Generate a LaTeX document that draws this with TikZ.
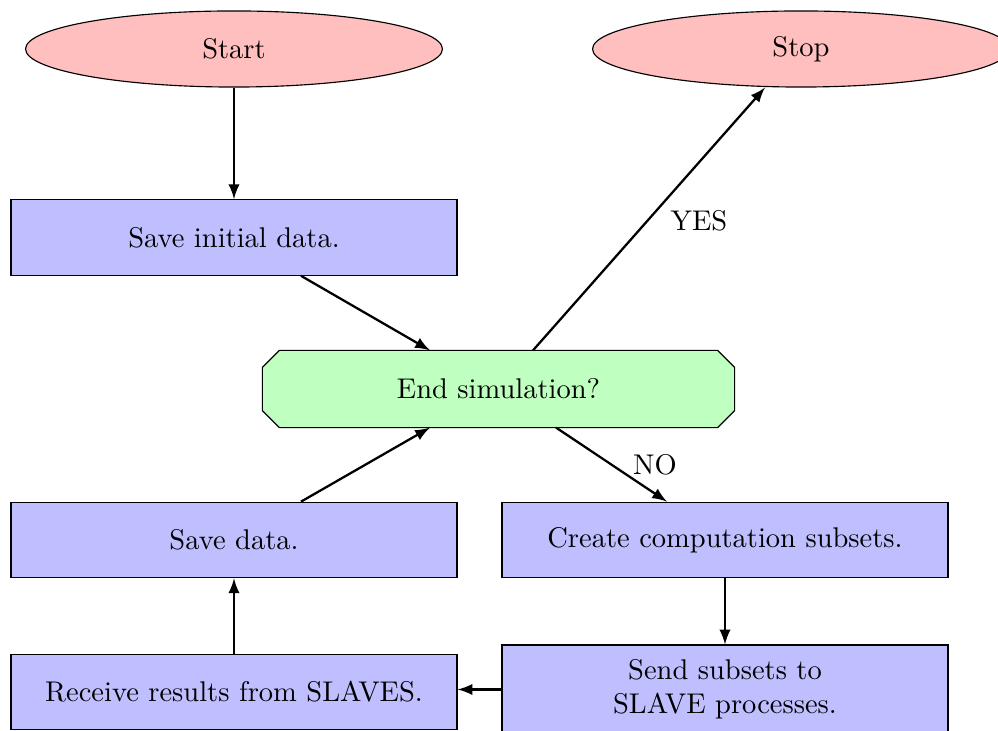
\documentclass[tikz,border=0pt]{standalone}
\usetikzlibrary{shapes.geometric,arrows,calc,backgrounds}

\tikzset{
  terminal/.style={ellipse,draw=black,fill=red!25,thin,inner sep=0pt,
    minimum width=146.3pt,minimum height=26.7pt},
  procbox/.style={rectangle,draw=black,fill=blue!25,thin,inner sep=0pt,
    minimum width=156.5pt,minimum height=26.5pt,align=center},
  decision/.style={rectangle,inner sep=0pt,minimum width=165.3pt,minimum height=26.7pt},
  flow/.style={draw,thick,-latex},
  branch/.style={inner sep=0pt}
}

\begin{document}
\begin{tikzpicture}[x=0.3509pt,y=-0.3509pt]
  \useasboundingbox (0,0) rectangle (998,731);

  % terminals
  \node[terminal] (start) at (234,49) {Start};
  \node[terminal] (stop) at (801,49) {Stop};

  % process steps
  \node[procbox] (init) at (234,237.5) {Save initial data.};
  \node[decision] (endsim) at (498.5,389) {End simulation?};
  \node[procbox] (save) at (234,540) {Save data.};
  \node[procbox] (create) at (725,540) {Create computation subsets.};
  \node[procbox] (receive) at (234,692) {Receive results from SLAVES.};
  \node[procbox,minimum height=31.2pt] (send) at (725,689.5) {Send subsets to\\SLAVE processes.};

  % chamfered outline of the decision node
  \begin{scope}[on background layer]
    \filldraw[fill=green!25,draw=black,thin]
      ($(endsim.north west)+(17,0)$) -- ($(endsim.north east)+(-17,0)$)
      -- ($(endsim.north east)+(0,17)$) -- ($(endsim.south east)+(0,-17)$)
      -- ($(endsim.south east)+(-17,0)$) -- ($(endsim.south west)+(17,0)$)
      -- ($(endsim.south west)+(0,-17)$) -- ($(endsim.north west)+(0,17)$)
      -- cycle;
  \end{scope}

  % connectors
  \draw[flow] (start.south) -- (init.north);
  \draw[flow] ($(init.south)+(67,0)$) -- ($(endsim.north)+(-68.5,0)$);
  \draw[flow] ($(endsim.north)+(34.5,0)$) -- (stop.south -| 765,0) coordinate (stoptip);
  \draw[flow] ($(endsim.south)+(57.5,0)$) -- ($(create.north)+(-58,0)$);
  \draw[flow] (create.south) -- (send.north);
  \draw[flow] (send.west) -- (send.west -| receive.east);
  \draw[flow] (receive.north) -- (save.south);
  \draw[flow] ($(save.north)+(67,0)$) -- ($(endsim.south)+(-68.5,0)$);

  % branch labels
  \node[branch] (yes) at (699,221) {YES};
  \node[branch] (no) at (655,465) {NO};
\end{tikzpicture}
\end{document}
